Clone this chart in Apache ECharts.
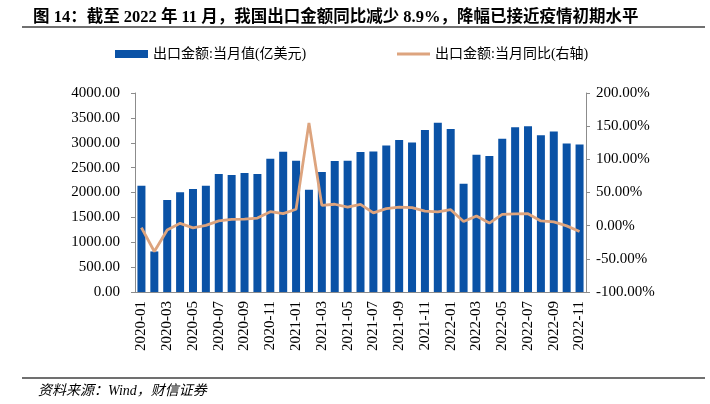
<!DOCTYPE html>
<html><head><meta charset="utf-8">
<script src="https://cdn.jsdelivr.net/npm/echarts@6/dist/echarts.min.js"></script>
<style>html,body{margin:0;padding:0;background:#fff}#c{width:710px;height:404px}</style>
</head><body><div id="c"></div>
<script>
const categories = ['2020-01','2020-02','2020-03','2020-04','2020-05','2020-06','2020-07','2020-08','2020-09','2020-10','2020-11','2020-12',
'2021-01','2021-02','2021-03','2021-04','2021-05','2021-06','2021-07','2021-08','2021-09','2021-10','2021-11','2021-12',
'2022-01','2022-02','2022-03','2022-04','2022-05','2022-06','2022-07','2022-08','2022-09','2022-10','2022-11'];
const exportValue = [2135,815,1851,2003,2068,2136,2373,2353,2394,2371,2680,2819,
2640,2055,2413,2634,2636,2814,2826,2943,3057,3003,3256,3404,
3274,2174,2760,2736,3082,3310,3330,3149,3227,2984,2966];
const exportYoY = [-3,-39,-6.6,3.5,-3.3,0.5,7.2,9.5,9.9,11.4,21.1,18.1,
24.7,154.9,30.6,32.3,27.9,32.2,19.3,25.6,28.1,27.1,22.0,20.9,
24.1,6.2,14.7,3.9,16.9,17.9,18.0,7.1,5.7,-0.3,-8.9];
const legendNames = ['出口金额:当月值(亿美元)','出口金额:当月同比(右轴)'];
const titleText = '图 14：截至 2022 年 11 月，我国出口金额同比减少 8.9%，降幅已接近疫情初期水平';
const sourceText = '资料来源：Wind，财信证券';

const serif = '"Liberation Serif","Times New Roman","Noto Sans CJK SC",serif';
const cjk = '"Liberation Serif","Noto Sans CJK SC",serif';
const axisGray = '#8c8c8c';
const legendText = {fontFamily:cjk,fontSize:14,color:'#000'};
const chart = echarts.init(document.getElementById('c'));
chart.setOption({
  animation:false,
  title:{text:titleText,left:28,top:4,textStyle:{fontFamily:cjk,fontSize:16.5,fontWeight:'bold',color:'#000'}},
  graphic:[
    {type:'line',shape:{x1:22,y1:27,x2:705,y2:27},style:{stroke:'#404040',lineWidth:1.5}},
    {type:'line',shape:{x1:22,y1:378,x2:705,y2:378},style:{stroke:'#404040',lineWidth:1.5}},
    {type:'text',left:38,top:384,style:{text:sourceText,font:'italic 14px '+cjk,fill:'#000'}}
  ],
  legend:[
    {top:47,left:115,padding:0,itemWidth:33,itemHeight:8,itemGap:4,textStyle:legendText,
     data:[{name:legendNames[0],icon:'rect'}]},
    {top:47,left:397,padding:0,itemWidth:33,itemHeight:8,itemGap:4,textStyle:legendText,
     data:[{name:legendNames[1],icon:'path://M0,0L33,0L33,2.8L0,2.8Z'}]}
  ],
  grid:{left:135,right:124,top:93,bottom:112},
  xAxis:{type:'category',data:categories,boundaryGap:true,
    axisLine:{lineStyle:{color:axisGray}},
    axisTick:{interval:1,length:4,lineStyle:{color:axisGray}},
    axisLabel:{interval:1,rotate:90,fontFamily:serif,fontSize:15,color:'#000',margin:9}},
  yAxis:[
    {type:'value',min:0,max:4000,interval:500,splitLine:{show:false},
     axisLine:{show:true,lineStyle:{color:axisGray}},axisTick:{show:true,length:4,lineStyle:{color:axisGray}},
     axisLabel:{formatter:v=>v.toFixed(2),fontFamily:serif,fontSize:15,color:'#000',margin:15}},
    {type:'value',min:-100,max:200,interval:50,splitLine:{show:false},
     axisLine:{show:true,lineStyle:{color:axisGray}},axisTick:{show:true,length:4,lineStyle:{color:axisGray}},
     axisLabel:{formatter:v=>v.toFixed(2)+'%',fontFamily:serif,fontSize:15,color:'#000',margin:10}}
  ],
  series:[
    {name:legendNames[0],type:'bar',data:exportValue,barWidth:8,itemStyle:{color:'#0a52a6'}},
    {name:legendNames[1],type:'line',yAxisIndex:1,data:exportYoY,symbol:'none',
     lineStyle:{color:'#dda47e',width:2.8},itemStyle:{color:'#dda47e'}}
  ]
});
</script></body></html>
